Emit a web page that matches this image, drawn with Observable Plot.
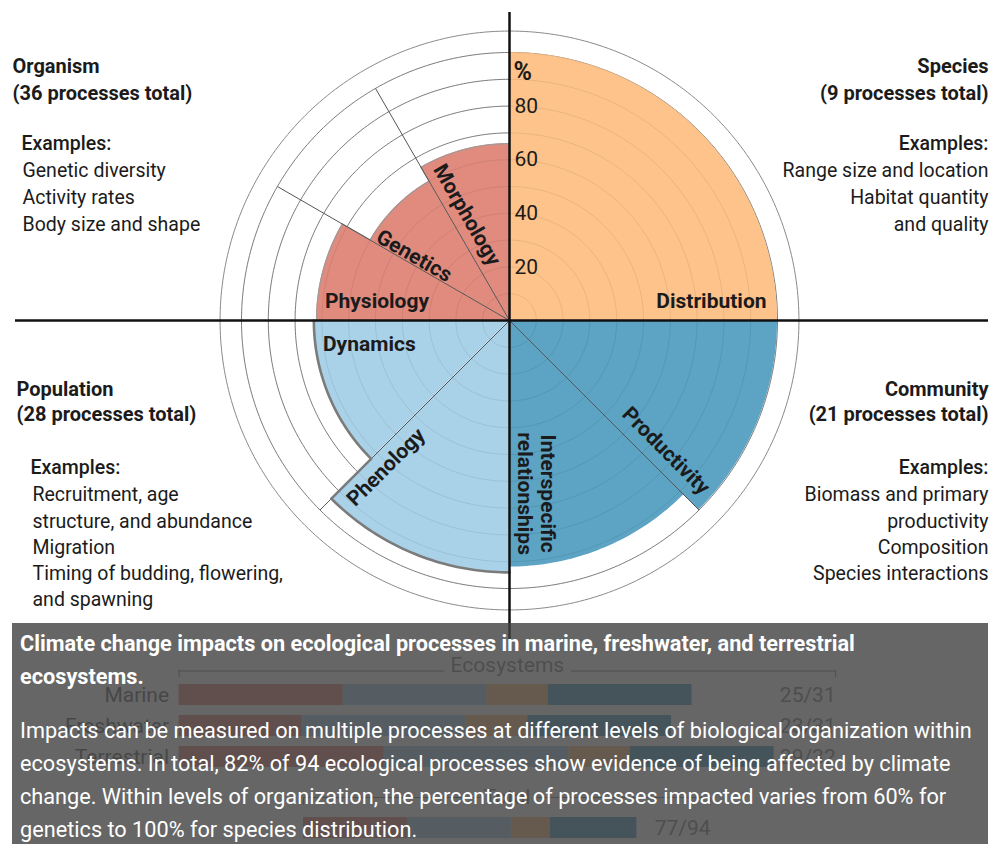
<!DOCTYPE html>
<html><head><meta charset="utf-8">
<script src="https://cdn.jsdelivr.net/npm/d3@7"></script>
<script src="https://cdn.jsdelivr.net/npm/@observablehq/plot@0.6"></script>
<style>
html,body{margin:0;padding:0;background:#fff;}
#wrap{position:relative;width:1000px;height:844px;overflow:hidden;font-family:Roboto,"Noto Sans",sans-serif;}
#polar{position:absolute;left:0;top:0;}
#eco,#tot{position:absolute;left:0;top:645px;}
#cap{position:absolute;left:12px;top:623px;width:976px;height:221px;background:rgba(64,64,64,0.8);color:#fff;box-sizing:border-box;padding:4px 8px 0 8px;font-size:21.7px;line-height:33px;white-space:nowrap;}
#cap .t{font-weight:700;}
#cap .b{margin-top:21px;}
</style></head><body>
<div id="wrap">
  <div id="polar"></div>
  <div id="eco"></div>
  <div id="tot"></div>
  <div id="cap">
    <div class="t">Climate change impacts on ecological processes in marine, freshwater, and terrestrial<br>ecosystems.</div>
    <div class="b">Impacts can be measured on multiple processes at different levels of biological organization within<br>ecosystems. In total, 82% of 94 ecological processes show evidence of being affected by climate<br>change. Within levels of organization, the percentage of processes impacted varies from 60% for<br>genetics to 100% for species distribution.</div>
  </div>
</div>
<script>
// ---------------- DATA ----------------
// levels in counter-clockwise order starting from east
const levels = ["Species", "Organism", "Population", "Community"];
const levelTotals = [9, 36, 28, 21];
const processNames = ["Distribution", "Morphology", "Genetics", "Physiology", "Dynamics", "Phenology", "Interspecific\nrelationships", "Productivity"];
const processLevels = ["Species", "Organism", "Organism", "Organism", "Population", "Population", "Community", "Community"];
const percentImpacted = [100, 66, 60, 72, 73, 94, 92, 100];
const gridValues = [10, 20, 30, 40, 50, 60, 70, 80, 90, 100];
const tickLabels = [20, 40, 60, 80];
const outerFrame = 108;

const organismExamples = ["Genetic diversity", "Activity rates", "Body size and shape"];
const speciesExamples = ["Range size and location", "Habitat quantity", "and quality"];
const populationExamples = ["Recruitment, age", "structure, and abundance", "Migration", "Timing of budding, flowering,", "and spawning"];
const communityExamples = ["Biomass and primary", "productivity", "Composition", "Species interactions"];

// ecosystems bar chart (behind caption)
const ecosystems = ["Marine", "Freshwater", "Terrestrial"];
const ecoLabels = ["25/31", "23/31", "29/32"];
const barLevels = ["Organism", "Population", "Species", "Community"];
const ecoOrganism = [8, 6, 10];
const ecoPopulation = [7, 8, 9];
const ecoSpecies = [3, 3, 3];
const ecoCommunity = [7, 7, 7];
const ecoMax = 32;
const totalByLevel = [24, 24, 9, 20];
const totalLabel = "77/94";
const totalMax = 94;

// ---------------- STYLE / LAYOUT ----------------
const levelColor = {Species: "#FDC38B", Organism: "#E08B7E", Population: "#A9D1E8", Community: "#5CA3C4"};
const labelR = [75.7, 42.5, 43, 50, 53, 71.5, 65.4, 76];
const labelA = [5.6, 111.6, 145.6, 171.4, 189.3, 229.7, 279, 320.4];
const labelRot = [0, 60, 30, 0, 0, -45, 90, 45];
const ink = "#1b1b1b";

// ---------------- GEOMETRY FROM DATA ----------------
const rad = a => a * Math.PI / 180;
function arcPts(v, a0, a1, extra = {}) {
  const n = Math.max(4, Math.ceil(Math.abs(a1 - a0)));
  const pts = [];
  for (let i = 0; i <= n; i++) {
    const a = rad(a0 + (a1 - a0) * i / n);
    pts.push({x: v * Math.cos(a), y: v * Math.sin(a), ...extra});
  }
  return pts;
}
const procs = processNames.map((name, i) => {
  const lv = processLevels[i];
  const j = levels.indexOf(lv);
  const members = processLevels.map((l, k) => l === lv ? k : -1).filter(k => k >= 0);
  const pos = members.indexOf(i);
  const span = 90 / members.length;
  const a0 = 90 * j + span * pos;
  return {name, level: lv, v: percentImpacted[i], a0, a1: a0 + span, first: pos === 0};
});

const k = 2.68, cx = 509, cy = 320, W = 1000, H = 640;

const ringPts = [...gridValues, outerFrame].flatMap(r => arcPts(r, 0, 360, {r}));
const faintPts = gridValues.flatMap(r => arcPts(r, 0, 360, {r}));
const dividers = procs.filter(p => !p.first).map(p => ({x2: 100 * Math.cos(rad(p.a0)), y2: 100 * Math.sin(rad(p.a0))}));

function outlineMarks(lv, stroke, strokeWidth) {
  const ps = procs.filter(p => p.level === lv);
  const marks = ps.map(p => Plot.line(arcPts(p.v, p.a0, p.a1), {x: "x", y: "y", stroke, strokeWidth}));
  const steps = [];
  for (let i = 1; i < ps.length; i++) {
    const a = rad(ps[i].a0), lo = Math.min(ps[i].v, ps[i - 1].v), hi = Math.max(ps[i].v, ps[i - 1].v);
    steps.push({x1: lo * Math.cos(a), y1: lo * Math.sin(a), x2: hi * Math.cos(a), y2: hi * Math.sin(a)});
  }
  marks.push(Plot.link(steps, {x1: "x1", y1: "y1", x2: "x2", y2: "y2", stroke, strokeWidth}));
  return marks;
}

function block(lines, o) {
  const fs = o.fs || 19.5, lh = o.lh || 1.35;
  return Plot.text([lines.join("\n")], {
    text: d => d, frameAnchor: o.right ? "top-right" : "top-left", textAnchor: o.right ? "end" : "start",
    lineAnchor: "top", dx: o.dx, dy: o.baseline - 0.71 * lh * fs, fontSize: fs, lineHeight: lh,
    fontWeight: o.weight || 400, fill: ink, fontFamily: "Roboto"
  });
}
const hdr = lv => [lv, `(${levelTotals[levels.indexOf(lv)]} processes total)`];

const polar = Plot.plot({
  width: W, height: H, margin: 0,
  style: {fontFamily: "Roboto", background: "transparent", overflow: "visible"},
  x: {domain: [-cx / k, (W - cx) / k], range: [0, W], axis: null},
  y: {domain: [-(H - cy) / k, cy / k], range: [H, 0], axis: null},
  marks: [
    Plot.line(ringPts, {x: "x", y: "y", z: "r", stroke: "#8a8a8a", strokeWidth: 1}),
    ...procs.map(p => Plot.area(arcPts(p.v, p.a0, p.a1, {cx: 0, cy: 0}), {x1: "x", y1: "y", x2: "cx", y2: "cy", fill: levelColor[p.level]})),
    Plot.line(faintPts, {x: "x", y: "y", z: "r", stroke: "#000", strokeOpacity: 0.08, strokeWidth: 1}),
    ...outlineMarks("Organism", "#a39a98", 1.3),
    Plot.link(dividers, {x1: 0, y1: 0, x2: "x2", y2: "y2", stroke: "#555", strokeWidth: 1}),
    ...outlineMarks("Population", "#7b7b7b", 2.6),
    Plot.ruleY([0], {insetLeft: 15, insetRight: 12, stroke: "#111", strokeWidth: 2.5}),
    Plot.ruleX([0], {insetTop: 12, stroke: "#111", strokeWidth: 2.5}),
    Plot.text(tickLabels, {x: 0, y: d => d, text: d => String(d), dx: 5, textAnchor: "start", fontSize: 21, fill: ink}),
    Plot.text(["%"], {x: 0, y: tickLabels[tickLabels.length - 1], text: d => d, dx: 4, dy: -34, textAnchor: "start", fontSize: 25, fontWeight: 700, fill: ink}),
    ...procs.map((p, i) => Plot.text([p], {
      x: d => labelR[i] * Math.cos(rad(labelA[i])), y: d => labelR[i] * Math.sin(rad(labelA[i])),
      text: "name", rotate: labelRot[i], textAnchor: "middle", lineAnchor: "middle", lineHeight: 1.1,
      fontSize: 21, fontWeight: 700, fill: ink
    })),
    block(hdr("Organism"), {dx: 12, baseline: 73, weight: 700, fs: 20}),
    block(["Examples:"], {dx: 21, baseline: 150, weight: 500}),
    block(organismExamples, {dx: 22, baseline: 177, lh: 1.36}),
    block(hdr("Species"), {dx: -12, baseline: 73, weight: 700, fs: 20, right: true}),
    block(["Examples:"], {dx: -12, baseline: 150, weight: 500, right: true}),
    block(speciesExamples, {dx: -12, baseline: 177, lh: 1.36, right: true}),
    block(hdr("Population"), {dx: 16, baseline: 395, weight: 700, fs: 20, lh: 1.3}),
    block(["Examples:"], {dx: 30, baseline: 474, weight: 500}),
    block(populationExamples, {dx: 32, baseline: 501, lh: 1.346}),
    block(hdr("Community"), {dx: -12, baseline: 395, weight: 700, fs: 20, lh: 1.3, right: true}),
    block(["Examples:"], {dx: -12, baseline: 474, weight: 500, right: true}),
    block(communityExamples, {dx: -12, baseline: 501, lh: 1.346, right: true})
  ]
});
document.getElementById("polar").append(polar);

// ---------------- ECOSYSTEM BARS ----------------
const ecoCounts = [ecoOrganism, ecoPopulation, ecoSpecies, ecoCommunity];
const ecoRows = [];
ecosystems.forEach((e, i) => barLevels.forEach((lv, j) => ecoRows.push({eco: e, level: lv, n: ecoCounts[j][i]})));
const colorScale = {domain: barLevels, range: barLevels.map(l => levelColor[l])};
const grey = "#888";

const eco = Plot.plot({
  width: W, height: 199, margin: 0,
  style: {fontFamily: "Roboto", background: "transparent"},
  x: {domain: [0, ecoMax], range: [178.6, 835.2], axis: null},
  y: {type: "band", domain: ecosystems, range: [39.3, 122.3], paddingInner: 0.3226, paddingOuter: 0, axis: null},
  color: colorScale,
  marks: [
    Plot.barX(ecoRows, {x: "n", y: "eco", fill: "level"}),
    Plot.ruleY([ecosystems[0]], {y: d => d, x1: 0, x2: ecoMax, dy: -24, stroke: grey}),
    Plot.tickX([0, ecoMax], {x: d => d, y: () => ecosystems[0], dy: -21, insetTop: 7, insetBottom: 7, stroke: grey}),
    Plot.text(["Ecosystems"], {x: ecoMax / 2, y: () => ecosystems[0], text: d => d, dy: -29.8, fontSize: 21, fill: grey, stroke: "#fff", strokeWidth: 16, paintOrder: "stroke"}),
    Plot.text(ecosystems, {x: 0, y: d => d, text: d => d, dx: -10, textAnchor: "end", fontSize: 21, fill: "#666"}),
    Plot.text(ecosystems, {x: ecoMax, y: d => d, text: (d, i) => ecoLabels[i], textAnchor: "end", fontSize: 21, fill: grey})
  ]
});
document.getElementById("eco").append(eco);

const totalRows = barLevels.map((lv, j) => ({row: "Total", level: lv, n: totalByLevel[j]}));
const tot = Plot.plot({
  width: W, height: 199, margin: 0,
  style: {fontFamily: "Roboto", background: "transparent"},
  x: {domain: [0, totalMax], range: [303, 710], axis: null},
  y: {type: "band", domain: ["Total"], range: [172, 193], padding: 0, axis: null},
  color: colorScale,
  marks: [
    Plot.barX(totalRows, {x: "n", y: "row", fill: "level"}),
    Plot.ruleY(["Total"], {y: d => d, x1: 0, x2: totalMax, dy: -30.5, stroke: grey}),
    Plot.tickX([0, totalMax], {x: d => d, y: () => "Total", dy: -20, insetTop: 0, insetBottom: 13, stroke: grey}),
    Plot.text(["Total"], {x: totalMax / 2, y: () => "Total", text: d => d, dy: -30.5, fontSize: 21, fill: grey, stroke: "#fff", strokeWidth: 16, paintOrder: "stroke"}),
    Plot.text(["Total"], {x: totalMax, y: d => d, text: () => totalLabel, textAnchor: "end", fontSize: 21, fill: grey})
  ]
});
document.getElementById("tot").append(tot);
</script>
</body></html>
